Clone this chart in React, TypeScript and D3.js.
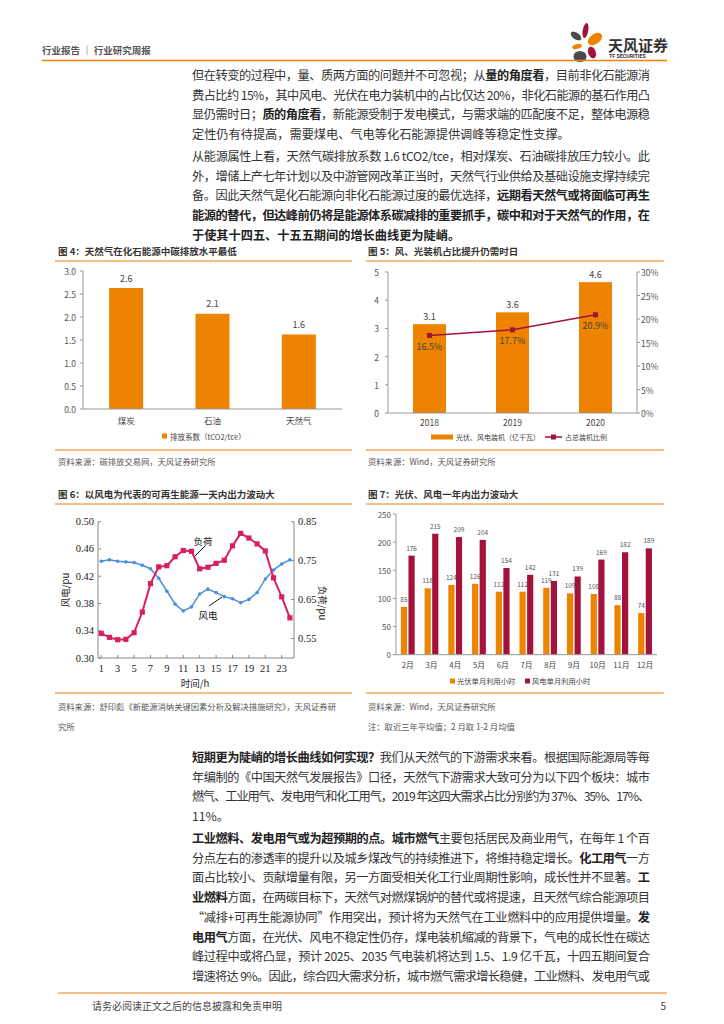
import React from "react";
import * as d3 from "d3";

const FONT = '"Noto Sans CJK SC", "Noto Sans", sans-serif';
const SERIF = '"Liberation Serif", "DejaVu Serif", "Noto Sans CJK SC", serif';
const ORANGE = "#EE8300";
const RED = "#A3123A";
const RULE = "#F5A862";
const TXT = "#333";

// 图4
const fuels = ["煤炭", "石油", "天然气"];
const emission = [2.63, 2.07, 1.62];
const emissionLabels = ["2.6", "2.1", "1.6"];

// 图5
const years = ["2018", "2019", "2020"];
const capacity = [3.15, 3.57, 4.64];
const capacityLabels = ["3.1", "3.6", "4.6"];
const share = [16.5, 17.7, 20.9];

// 图6
const hours = [1, 2, 3, 4, 5, 6, 7, 8, 9, 10, 11, 12, 13, 14, 15, 16, 17, 18, 19, 20, 21, 22, 23, 24];
const wind = [0.442, 0.444, 0.442, 0.441, 0.44, 0.436, 0.431, 0.417, 0.398, 0.379, 0.369, 0.375, 0.394, 0.401, 0.396, 0.39, 0.387, 0.381, 0.386, 0.396, 0.416, 0.429, 0.438, 0.444];
const load = [0.563, 0.553, 0.547, 0.548, 0.565, 0.618, 0.691, 0.734, 0.737, 0.76, 0.776, 0.774, 0.729, 0.733, 0.743, 0.751, 0.788, 0.82, 0.808, 0.793, 0.775, 0.706, 0.657, 0.603];
const hourTicks = [1, 3, 5, 7, 9, 11, 13, 15, 17, 19, 21, 23];
const windTicks = [0.3, 0.34, 0.38, 0.42, 0.46, 0.5];
const loadTicks = [0.55, 0.65, 0.75, 0.85];

// 图7
const months = ["2月", "3月", "4月", "5月", "6月", "7月", "8月", "9月", "10月", "11月", "12月"];
const solarHours = [85, 118, 124, 126, 112, 112, 119, 109, 108, 88, 74];
const windHours = [176, 215, 209, 204, 154, 142, 131, 139, 169, 182, 189];

// 正文
const para1 = [
  "但在转变的过程中，量、质两方面的问题并不可忽视；从**量的角度看**，目前非化石能源消",
  "费占比约 15%，其中风电、光伏在电力装机中的占比仅达 20%，非化石能源的基石作用凸",
  "显仍需时日；**质的角度看**，新能源受制于发电模式，与需求端的匹配度不足，整体电源稳",
  "定性仍有待提高，需要煤电、气电等化石能源提供调峰等稳定性支撑。",
];
const para2 = [
  "从能源属性上看，天然气碳排放系数 1.6  tCO2/tce，相对煤炭、石油碳排放压力较小。此",
  "外，增储上产七年计划以及中游管网改革正当时，天然气行业供给及基础设施支撑持续完",
  "备。因此天然气是化石能源向非化石能源过度的最优选择，**远期看天然气或将面临可再生**",
  "**能源的替代，但达峰前仍将是能源体系碳减排的重要抓手，碳中和对于天然气的作用，在**",
  "**于使其十四五、十五五期间的增长曲线更为陡峭。**",
];
const para3 = [
  "**短期更为陡峭的增长曲线如何实现？**我们从天然气的下游需求来看。根据国际能源局等每",
  "年编制的《中国天然气发展报告》口径，天然气下游需求大致可分为以下四个板块：城市",
  "燃气、工业用气、发电用气和化工用气，2019 年这四大需求占比分别约为 37%、35%、17%、",
  "11%。",
];
const para4 = [
  "**工业燃料、发电用气或为超预期的点。城市燃气**主要包括居民及商业用气，在每年 1 个百",
  "分点左右的渗透率的提升以及城乡煤改气的持续推进下，将维持稳定增长。**化工用气**一方",
  "面占比较小、贡献增量有限，另一方面受相关化工行业周期性影响，成长性并不显著。**工**",
  "**业燃料**方面，在两碳目标下，天然气对燃煤锅炉的替代或将提速，且天然气综合能源项目",
  "“减排+可再生能源协同”作用突出，预计将为天然气在工业燃料中的应用提供增量。**发**",
  "**电用气**方面，在光伏、风电不稳定性仍存，煤电装机缩减的背景下，气电的成长性在碳达",
  "峰过程中或将凸显，预计 2025、2035 气电装机将达到 1.5、1.9 亿千瓦，十四五期间复合",
  "增速将达 9%。因此，综合四大需求分析，城市燃气需求增长稳健，工业燃料、发电用气或",
];

const LH = 19.7;
const TX = 192;
const TW = 458;

const Para = ({ lines, y0, justifyLast }: { lines: string[]; y0: number; justifyLast?: boolean }) => (
  <g fontFamily={FONT} fontSize={12.2} fill={TXT}>
    {lines.map((ln, i) => {
      const segs = ln.split("**");
      const just = i < lines.length - 1 || justifyLast;
      return (
        <text key={i} x={TX} y={y0 + i * LH} dominantBaseline="central"
          textLength={just ? TW : undefined} lengthAdjust="spacing">
          {segs.map((s, j) => (
            <tspan key={j} fontWeight={j % 2 ? 700 : 400} fill={j % 2 ? "#222" : TXT}>{s}</tspan>
          ))}
        </text>
      );
    })}
  </g>
);

const Fig4 = () => {
  const x = d3.scaleBand().domain(fuels).range([83, 342]);
  const y = d3.scaleLinear().domain([0, 3]).range([409, 271]);
  const bw = 34;
  return (
    <g fontFamily={FONT}>
      <text x={58} y={251} fontSize={9.5} fontWeight={700} fill={TXT} dominantBaseline="central">图 4：天然气在化石能源中碳排放水平最低</text>
      <line x1={55} x2={352} y1={261} y2={261} stroke={RULE} strokeWidth={1.5} />
      {y.ticks(6).map(t => (
        <g key={t}>
          <line x1={80} x2={83} y1={y(t)} y2={y(t)} stroke="#999" />
          <text x={76} y={y(t)} fontSize={8.5} fill="#555" textAnchor="end" dominantBaseline="central">{d3.format(".1f")(t)}</text>
        </g>
      ))}
      <line x1={83} x2={83} y1={y(3)} y2={y(0)} stroke="#999" />
      {fuels.map((f, i) => {
        const cx = x(f)! + x.bandwidth() / 2;
        return (
          <g key={f}>
            <rect x={cx - bw / 2} y={y(emission[i])} width={bw} height={y(0) - y(emission[i])} fill={ORANGE} />
            <text x={cx} y={y(emission[i]) - 10} fontSize={9} fill="#444" textAnchor="middle" dominantBaseline="central">{emissionLabels[i]}</text>
            <text x={cx} y={420} fontSize={8.5} fill="#444" textAnchor="middle" dominantBaseline="central">{f}</text>
          </g>
        );
      })}
      <line x1={83} x2={342} y1={y(0)} y2={y(0)} stroke="#999" />
      <rect x={162} y={433.5} width={5} height={5} fill={ORANGE} />
      <text x={170} y={436} fontSize={7.5} fill="#444" dominantBaseline="central">排放系数（tCO2/tce）</text>
      <line x1={55} x2={352} y1={450} y2={450} stroke={RULE} strokeWidth={1.5} />
      <text x={58} y={461} fontSize={8.3} fill="#555" dominantBaseline="central">资料来源：碳排放交易网，天风证券研究所</text>
    </g>
  );
};

const Fig5 = () => {
  const x = d3.scaleBand().domain(years).range([388, 637]);
  const y = d3.scaleLinear().domain([0, 5]).range([413, 272]);
  const y2 = d3.scaleLinear().domain([0, 30]).range([413, 272]);
  const bw = 33;
  const cx = (yr: string) => x(yr)! + x.bandwidth() / 2;
  const line = d3.line<number>().x((d, i) => cx(years[i])).y(d => y2(d));
  return (
    <g fontFamily={FONT}>
      <text x={368} y={251} fontSize={9.5} fontWeight={700} fill={TXT} dominantBaseline="central">图 5：风、光装机占比提升仍需时日</text>
      <line x1={366} x2={664} y1={261} y2={261} stroke={RULE} strokeWidth={1.5} />
      {y.ticks(5).map(t => (
        <g key={t}>
          <line x1={385} x2={388} y1={y(t)} y2={y(t)} stroke="#999" />
          <text x={379} y={y(t)} fontSize={8.5} fill="#555" textAnchor="end" dominantBaseline="central">{t}</text>
        </g>
      ))}
      {y2.ticks(6).map(t => (
        <g key={t}>
          <line x1={637} x2={640} y1={y2(t)} y2={y2(t)} stroke="#999" />
          <text x={641} y={y2(t)} fontSize={8.5} fill="#555" dominantBaseline="central">{t}%</text>
        </g>
      ))}
      <line x1={388} x2={388} y1={272} y2={413} stroke="#999" />
      <line x1={637} x2={637} y1={272} y2={413} stroke="#999" />
      {years.map((yr, i) => (
        <g key={yr}>
          <rect x={cx(yr) - bw / 2} y={y(capacity[i])} width={bw} height={y(0) - y(capacity[i])} fill={ORANGE} />
          <text x={cx(yr)} y={y(capacity[i]) - 8} fontSize={9} fill="#444" textAnchor="middle" dominantBaseline="central">{capacityLabels[i]}</text>
          <text x={cx(yr)} y={422} fontSize={8.5} fill="#444" textAnchor="middle" dominantBaseline="central">{yr}</text>
        </g>
      ))}
      <line x1={388} x2={637} y1={413} y2={413} stroke="#999" />
      <path d={line(share)!} fill="none" stroke={RED} strokeWidth={1.5} />
      {share.map((s, i) => (
        <g key={i}>
          <rect x={cx(years[i]) - 2.5} y={y2(s) - 2.5} width={5} height={5} fill={RED} />
          <text x={cx(years[i])} y={y2(s) + 11} fontSize={9} fill="#444" textAnchor="middle" dominantBaseline="central">{s.toFixed(1)}%</text>
        </g>
      ))}
      <rect x={431} y={434.5} width={22} height={5} fill={ORANGE} />
      <text x={456} y={437} fontSize={7} fill="#444" dominantBaseline="central">光伏、风电装机（亿千瓦）</text>
      <line x1={545} x2={562} y1={437} y2={437} stroke={RED} strokeWidth={1.5} />
      <rect x={551} y={434.5} width={5} height={5} fill={RED} />
      <text x={565} y={437} fontSize={7} fill="#444" dominantBaseline="central">占总装机比例</text>
      <line x1={366} x2={664} y1={450} y2={450} stroke={RULE} strokeWidth={1.5} />
      <text x={368} y={461} fontSize={8.3} fill="#555" dominantBaseline="central">资料来源：Wind，天风证券研究所</text>
    </g>
  );
};

const Fig6 = () => {
  const x = d3.scaleLinear().domain([0.6, 24.5]).range([98, 294]);
  const yl = d3.scaleLinear().domain([0.3, 0.5]).range([658, 521.7]);
  const yr = d3.scaleLinear().domain([0.5, 0.85]).range([658, 521.7]);
  const windLine = d3.line<number>().x((d, i) => x(hours[i])).y(d => yl(d));
  const loadLine = d3.line<number>().x((d, i) => x(hours[i])).y(d => yr(d));
  const BLUE = "#4A8FDA";
  const PINK = "#D8205A";
  return (
    <g>
      <text x={58} y={494} fontFamily={FONT} fontSize={9.5} fontWeight={700} fill={TXT} dominantBaseline="central">图 6：以风电为代表的可再生能源一天内出力波动大</text>
      <line x1={55} x2={352} y1={504} y2={504} stroke={RULE} strokeWidth={1.5} />
      <g fontFamily={SERIF} fontSize={10.5} fill="#222">
        <line x1={98} x2={98} y1={521.7} y2={658} stroke="#888" />
        <line x1={294} x2={294} y1={521.7} y2={658} stroke="#888" />
        <line x1={98} x2={294} y1={658} y2={658} stroke="#888" />
        {windTicks.map(t => (
          <g key={t}>
            <line x1={98} x2={101} y1={yl(t)} y2={yl(t)} stroke="#888" />
            <text x={94} y={yl(t)} textAnchor="end" dominantBaseline="central">{t.toFixed(2)}</text>
          </g>
        ))}
        {loadTicks.map(t => (
          <g key={t}>
            <line x1={291} x2={294} y1={yr(t)} y2={yr(t)} stroke="#888" />
            <text x={298} y={yr(t)} dominantBaseline="central">{t.toFixed(2)}</text>
          </g>
        ))}
        {hourTicks.map(h => (
          <g key={h}>
            <line x1={x(h)} x2={x(h)} y1={658} y2={655} stroke="#888" />
            <text x={x(h)} y={668} textAnchor="middle" dominantBaseline="central">{h}</text>
          </g>
        ))}
        <text x={195} y={683} textAnchor="middle" dominantBaseline="central" fontFamily={FONT} fontSize={9.5}>时间/h</text>
        <text transform="translate(65,590) rotate(-90)" textAnchor="middle" dominantBaseline="central" fontFamily={FONT} fontSize={9.5}>风电/pu</text>
        <text transform="translate(323,603) rotate(90)" textAnchor="middle" dominantBaseline="central" fontFamily={FONT} fontSize={9.5}>负荷/pu</text>
      </g>
      <path d={windLine(wind)!} fill="none" stroke={BLUE} strokeWidth={1.5} />
      {wind.map((v, i) => <circle key={i} cx={x(hours[i])} cy={yl(v)} r={1.8} fill={BLUE} />)}
      <path d={loadLine(load)!} fill="none" stroke={PINK} strokeWidth={2} />
      {load.map((v, i) => <rect key={i} x={x(hours[i]) - 2.6} y={yr(v) - 2.6} width={5.2} height={5.2} fill={PINK} />)}
      <text x={203} y={541} fontFamily={FONT} fontSize={9.5} fill="#222" textAnchor="middle" dominantBaseline="central">负荷</text>
      <line x1={205} y1={546} x2={195} y2={556} stroke="#111" />
      <text x={208} y={615} fontFamily={FONT} fontSize={9.5} fill="#222" textAnchor="middle" dominantBaseline="central">风电</text>
      <line x1={209} y1={606} x2={222} y2={597} stroke="#111" />
      <line x1={55} x2={352} y1={693} y2={693} stroke={RULE} strokeWidth={1.5} />
      <text x={58} y={706} fontFamily={FONT} fontSize={8.3} fill="#555" dominantBaseline="central">资料来源：舒印彪《新能源消纳关键因素分析及解决措施研究》，天风证券研</text>
      <text x={58} y={726} fontFamily={FONT} fontSize={8.3} fill="#555" dominantBaseline="central">究所</text>
    </g>
  );
};

const Fig7 = () => {
  const x = d3.scaleBand().domain(months).range([396, 657]);
  const y = d3.scaleLinear().domain([0, 250]).range([654.7, 514]);
  const bw = 6.2;
  return (
    <g fontFamily={FONT}>
      <text x={368} y={494} fontSize={9.5} fontWeight={700} fill={TXT} dominantBaseline="central">图 7：光伏、风电一年内出力波动大</text>
      <line x1={366} x2={664} y1={504} y2={504} stroke={RULE} strokeWidth={1.5} />
      {y.ticks(5).map(t => (
        <g key={t}>
          <line x1={393} x2={396} y1={y(t)} y2={y(t)} stroke="#999" />
          <text x={391} y={y(t)} fontSize={8} fill="#555" textAnchor="end" dominantBaseline="central">{t}</text>
        </g>
      ))}
      <line x1={396} x2={396} y1={514} y2={654.7} stroke="#999" />
      {months.map((m, i) => {
        const c = x(m)! + x.bandwidth() / 2;
        return (
          <g key={m}>
            <rect x={c - 7} y={y(solarHours[i])} width={bw} height={y(0) - y(solarHours[i])} fill={ORANGE} />
            <rect x={c + 0.6} y={y(windHours[i])} width={bw} height={y(0) - y(windHours[i])} fill={RED} />
            <text x={c - 3.9} y={y(solarHours[i]) - 8} fontSize={6.5} fill="#555" textAnchor="middle" dominantBaseline="central">{solarHours[i]}</text>
            <text x={c + 3.7} y={y(windHours[i]) - 8} fontSize={6.5} fill="#555" textAnchor="middle" dominantBaseline="central">{windHours[i]}</text>
            <text x={c} y={664} fontSize={7.8} fill="#444" textAnchor="middle" dominantBaseline="central">{m}</text>
          </g>
        );
      })}
      <line x1={396} x2={657} y1={654.7} y2={654.7} stroke="#999" />
      <rect x={450} y={678.5} width={5} height={5} fill={ORANGE} />
      <text x={457} y={681} fontSize={7.3} fill="#444" dominantBaseline="central">光伏单月利用小时</text>
      <rect x={525} y={678.5} width={5} height={5} fill={RED} />
      <text x={532} y={681} fontSize={7.3} fill="#444" dominantBaseline="central">风电单月利用小时</text>
      <line x1={366} x2={664} y1={693} y2={693} stroke={RULE} strokeWidth={1.5} />
      <text x={368} y={706} fontSize={8.3} fill="#555" dominantBaseline="central">资料来源：Wind，天风证券研究所</text>
      <text x={368} y={726} fontSize={8.3} fill="#555" dominantBaseline="central">注：取近三年平均值；2 月取 1-2 月均值</text>
    </g>
  );
};

const Header = () => (
  <g fontFamily={FONT}>
    <text x={42} y={50} fontSize={9.5} fontWeight={700} fill="#555" dominantBaseline="central">行业报告 ｜ 行业研究周报</text>
    <ellipse cx={585.5} cy={30.5} rx={2.8} ry={7.5} fill={RED} transform="rotate(10 585.5 30.5)" />
    <ellipse cx={576} cy={36} rx={6} ry={3.3} fill="#4a4a4a" transform="rotate(35 576 36)" />
    <ellipse cx={595} cy={39} rx={8} ry={5} fill={ORANGE} transform="rotate(-35 595 39)" />
    <ellipse cx={577} cy={46.5} rx={5} ry={2.4} fill={ORANGE} transform="rotate(-15 577 46.5)" />
    <ellipse cx={592} cy={52.5} rx={3.8} ry={6} fill={RED} transform="rotate(-20 592 52.5)" />
    <ellipse cx={580} cy={56.5} rx={6.5} ry={5.5} fill="#4a4a4a" />
    <text x={608} y={44} fontSize={15} fontWeight={700} fill="#333" dominantBaseline="central">天风证券</text>
    <text x={609} y={56} fontSize={5.3} fontWeight={700} fill="#333" fontFamily="Roboto, sans-serif" dominantBaseline="central">TF SECURITIES</text>
    <line x1={42} x2={667} y1={60.5} y2={60.5} stroke={ORANGE} strokeWidth={1.5} />
  </g>
);

const Footer = () => (
  <g fontFamily={FONT}>
    <line x1={58} x2={667} y1={993} y2={993} stroke={RULE} strokeWidth={1.5} />
    <text x={92} y={1005} fontSize={10} fill="#444" dominantBaseline="central">请务必阅读正文之后的信息披露和免责申明</text>
    <text x={666} y={1005} fontSize={10} fill="#444" textAnchor="end" dominantBaseline="central">5</text>
  </g>
);

export default function App() {
  return (
    <svg width={724} height={1024} viewBox="0 0 724 1024"
      style={{ position: "absolute", left: 0, top: 0, background: "#fff" }}>
      <Header />
      <Para lines={para1} y0={75} />
      <Para lines={para2} y0={156} />
      <Fig4 />
      <Fig5 />
      <Fig6 />
      <Fig7 />
      <Para lines={para3} y0={757} />
      <Para lines={para4} y0={838} justifyLast />
      <Footer />
    </svg>
  );
}
